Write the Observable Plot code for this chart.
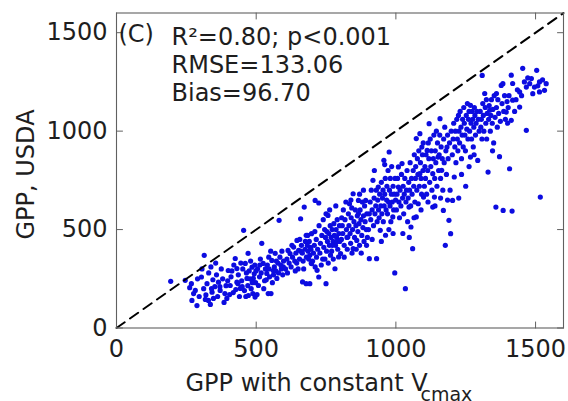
<!DOCTYPE html>
<html>
<head>
<meta charset="utf-8">
<script src="https://cdn.jsdelivr.net/npm/d3@7"></script>
<script src="https://cdn.jsdelivr.net/npm/@observablehq/plot@0.6"></script>
<style>
  html, body { margin: 0; padding: 0; background: #fff; }
  #chart { width: 568px; height: 401px; overflow: hidden; }
</style>
</head>
<body>
<div id="chart"></div>
<script>
// ---- Data (GPP with constant Vcmax vs GPP, USDA) ----
const axisDomain = [0, 1600];
const xTicks = [0, 500, 1000, 1500];
const yTicks = [0, 500, 1000, 1500];
const panelLabel = "(C)";
const statLines = ["R\u00B2=0.80; p<0.001", "RMSE=133.06", "Bias=96.70"];
const xTitle = "GPP with constant V";
const xTitleSub = "cmax";
const yTitle = "GPP, USDA";

const gppConstVcmax = [
  // x < 300
  194,246,262,270,282,288,276,296,290,268,
  // 300-400
  304,314,306,324,329,342,347,336,365,371, 395,400,358,312,320,338,352,380,388,392, 345,330,362,375,385,318,355,398,370,340,
  // 400-500
  407,425,431,431,443,455,461,467,471,485, 490,496,410,418,420,436,440,448,452,458, 463,470,475,480,482,488,493,498,413,427, 445,465,478,495,405,435,450,472,486,499,
  // 500-600
  508,520,525,538,543,556,561,568,574,582, 505,512,515,530,533,540,548,552,558,565, 570,578,585,590,595,598,503,518,527,545, 553,562,580,588,592,546,536,572,597,513,
  // 600-700
  605,610,614,618,621,625,630,634,638,642, 646,650,652,655,659,662,665,668,672,675, 679,680,683,686,690,692,694,697,698,666, 679,692,698,640,628,656,670,688,612,645, 660,676,684,696,
  // 700-800
  711,724,711,718,724,750,705,708,715,720, 728,730,735,738,742,745,748,750,752,755, 757,760,762,765,768,770,772,775,778,780, 782,784,786,788,790,792,795,796,798,702, 716,733,746,758,766,776,790,740,763,785, 710,725,753,773,799,
  // 800-900
  802,805,808,810,812,815,818,821,823,825, 828,830,832,834,836,838,840,842,845,847, 847,850,852,855,857,860,862,864,866,866, 868,870,872,875,878,880,882,884,886,888, 890,892,894,896,898,815,826,843,858,876, 895,806,839,870,884,
  // 900-1000
  905,902,905,908,910,912,915,918,920,922, 925,928,930,931,933,935,937,938,940,942, 944,946,948,950,952,954,955,957,958,960, 962,963,965,967,968,970,972,974,976,977, 979,980,982,984,985,987,989,990,992,994, 996,997,999,915,948,975,990,923,960,
  // 1000-1100
  1034,1009,1022,1073,1093,1086,1060,1054,1073,1080, 1099,1047,1009,1086,1002,1004,1006,1011,1013,1015, 1018,1020,1024,1026,1028,1030,1032,1036,1038,1040, 1042,1044,1046,1049,1051,1053,1056,1058,1062,1064, 1066,1068,1070,1071,1075,1077,1079,1082,1084,1088, 1090,1092,1095,1097,1098,1025,1048,1065,1090,
  // 1100-1200
  1119,1158,1177,1196,1138,1132,1170,1190,1112,1151, 1132,1164,1183,1102,1104,1106,1108,1110,1114,1116, 1118,1121,1123,1125,1127,1129,1134,1136,1139,1141, 1143,1145,1147,1149,1153,1155,1157,1160,1162,1166, 1168,1171,1173,1175,1179,1181,1185,1187,1192,1194, 1198,1115,1140,1185,1160,
  // 1200-1300
  1203,1209,1267,1293,1267,1202,1205,1207,1211,1213, 1215,1218,1220,1222,1224,1226,1228,1230,1233,1235, 1237,1239,1241,1243,1245,1247,1249,1252,1254,1256, 1258,1260,1262,1264,1269,1271,1273,1275,1277,1279, 1281,1283,1285,1287,1290,1295,1298,1235,1250,1225, 1262,1280,
  // 1300-1400
  1309,1318,1302,1304,1306,1308,1311,1313,1315,1320, 1322,1324,1327,1330,1332,1334,1336,1338,1340,1342, 1345,1347,1350,1352,1355,1358,1360,1360,1363,1365, 1368,1371,1374,1377,1380,1383,1384,1386,1389,1392, 1395,1398,1346,1325,
  // 1400+
  1416,1407,1413,1418,1418,1413,1443,1443,1454,1467, 1467,1479,1485,1496,1504,1514,1514,1517,1532,1538, 1402,1405,1425,1430,1435,1450,1460,1472,1490,1508, 1525,1400
];

const gppUSDA = [
  // x < 300
  237,242,205,140,191,114,175,160,250,225,
  // 300-400
  259,369,300,225,140,182,150,120,233,191, 150,292,270,200,168,310,210,250,175,215, 245,280,160,300,130,145,330,240,210,200,
  // 400-500
  216,353,302,233,201,496,328,252,379,309, 252,157,260,180,320,270,160,240,300,190, 160,215,290,340,200,175,275,230,290,195, 330,280,250,320,170,225,210,165,230,290,
  // 500-600
  216,430,328,277,175,343,292,379,252,547, 300,260,350,240,300,320,260,390,230,310, 290,330,360,300,270,340,170,280,200,360, 175,270,280,320,390,300,245,340,310,320,
  // 600-700
  300,350,394,330,378,310,360,411,340,380, 445,300,395,350,555,420,380,340,614,400, 471,360,420,390,440,369,410,330,479,234, 225,225,327,290,420,450,300,350,280,330, 390,440,470,400,
  // 700-800
  648,635,310,293,259,225,380,420,450,400, 380,430,470,350,410,500,460,580,390,440, 572,480,420,520,460,390,500,440,530,470, 301,420,500,460,550,400,361,480,520,340, 360,320,350,330,370,350,440,550,600,620, 490,520,490,420,440,
  // 800-900
  378,450,520,480,600,420,550,640,500,460, 462,580,520,631,480,430,560,610,500,682, 403,540,460,600,520,445,570,490,648,581, 530,420,600,550,470,640,510,570,440,620, 540,648,500,580,460,360,400,380,400,380, 420,560,650,680,700,
  // 900-1000
  352,500,580,640,550,700,600,750,520,660, 580,620,700,352,540,650,716,600,560,680, 496,620,740,580,660,700,540,852,620,680, 760,471,600,650,720,580,800,640,894,700, 620,760,540,680,820,640,564,720,600,680, 280,760,650,450,440,500,480,800,830,
  // 1000-1100
  200,818,835,962,919,987,403,513,564,631, 665,614,716,784,600,680,760,640,560,700, 620,780,660,720,580,680,760,640,700,800, 540,660,740,700,840,620,760,680,800,720, 880,640,760,820,700,860,780,900,720,840, 760,680,880,800,940,480,460,560,600,
  // 1100-1200
  1038,1063,420,479,665,614,597,547,902,868, 784,801,919,720,820,760,880,680,800,940, 860,740,960,820,900,700,860,980,760,900, 840,1000,720,940,800,880,980,760,920,860, 700,960,840,1020,900,780,980,860,940,700, 1000,640,620,650,660,
  // 1200-1300
  648,767,868,851,1131,880,960,1040,920,1000, 840,1060,960,900,1080,1000,940,1100,1020,860, 980,1060,920,1120,1040,980,900,1080,1010,1140, 960,1060,1100,1000,1040,960,1100,1060,920,1020, 1120,1080,980,1040,1100,1060,1000,780,720,660, 820,880,
  // 1300-1400
  1283,1191,1100,1020,1060,960,1140,1080,1000,1120, 1040,1160,1090,792,1060,1130,1106,1000,1080,1160, 1040,1110,940,1180,1070,614,1191,1120,1020,1160, 1090,870,1050,1232,1140,1241,597,1100,1180,1060, 1097,1150,900,960,
  // 1400+
  594,809,1055,1157,1242,1284,1199,1122,1319,1224, 1004,1241,1267,1224,1309,1250,1199,665,1207,1241, 1120,1180,1100,1160,1210,1180,1250,1270,1190,1230, 1260,1040
];

if (gppConstVcmax.length !== gppUSDA.length) {
  console.error("length mismatch", gppConstVcmax.length, gppUSDA.length);
}

const points = gppConstVcmax.map((x, i) => ({x, y: gppUSDA[i]}));

const FONT = "DejaVu Sans";
const FS = 24;
const TEXT = "#1e1e1e";
const AXIS = "#606060";
const fmt = d => String(d);

const tickShape = {
  draw(context, l) { context.moveTo(0, 0); context.lineTo(0, -l); }
};
const tickOpts = {length: 6, anchor: "start", shape: tickShape, stroke: AXIS, strokeWidth: 1};

const chart = Plot.plot({
  width: 568,
  height: 401,
  marginLeft: 116,
  marginRight: 5,
  marginTop: 12.5,
  marginBottom: 73.5,
  x: {domain: axisDomain},
  y: {domain: axisDomain},
  style: {fontFamily: FONT, fontSize: FS + "px", color: TEXT, background: "#fff", overflow: "hidden"},
  marks: [
    Plot.dot(points, {x: "x", y: "y", r: 2.6, fill: "#0c0ce0", stroke: "none"}),
    Plot.line(axisDomain, {x: d => d, y: d => d, stroke: "#000", strokeWidth: 2, strokeDasharray: "10,6.5"}),
    Plot.frame({stroke: AXIS, strokeWidth: 1.1}),
    // inward ticks on all four sides
    Plot.vector(xTicks, {...tickOpts, x: d => d, y: () => axisDomain[0], rotate: 0}),
    Plot.vector(xTicks, {...tickOpts, x: d => d, y: () => axisDomain[1], rotate: 180}),
    Plot.vector(yTicks, {...tickOpts, y: d => d, x: () => axisDomain[0], rotate: 90}),
    Plot.vector(yTicks, {...tickOpts, y: d => d, x: () => axisDomain[1], rotate: -90}),
    Plot.axisX(xTicks, {tickSize: 0, tickPadding: 12, tickFormat: fmt, fontSize: FS, fill: TEXT, label: null}),
    Plot.axisY(yTicks, {tickSize: 0, tickPadding: 9, tickFormat: fmt, fontSize: FS, fill: TEXT, label: null}),
    // axis titles
    Plot.text([xTitle], {frameAnchor: "bottom-left", text: d => d, textAnchor: "start", lineAnchor: "bottom",
      dx: 69, dy: 63, fontSize: FS, fill: TEXT}),
    Plot.text([xTitleSub], {frameAnchor: "bottom-left", text: d => d, textAnchor: "start", lineAnchor: "bottom",
      dx: 304, dy: 73, fontSize: 19, fill: TEXT}),
    Plot.text([yTitle], {frameAnchor: "left", text: d => d, rotate: -90, textAnchor: "middle", lineAnchor: "middle",
      dx: -90, dy: 4, fontSize: FS, fill: TEXT}),
    // annotations
    Plot.text([panelLabel], {frameAnchor: "top-left", text: d => d, textAnchor: "start", lineAnchor: "top",
      dx: 2, dy: 12, fontSize: FS, fill: TEXT}),
    Plot.text([statLines.join("\n")], {frameAnchor: "top-left", text: d => d, textAnchor: "start", lineAnchor: "top",
      dx: 55, dy: 12, lineHeight: 1.17, fontSize: FS, fill: TEXT})
  ]
});

document.getElementById("chart").appendChild(chart);
</script>
</body>
</html>
